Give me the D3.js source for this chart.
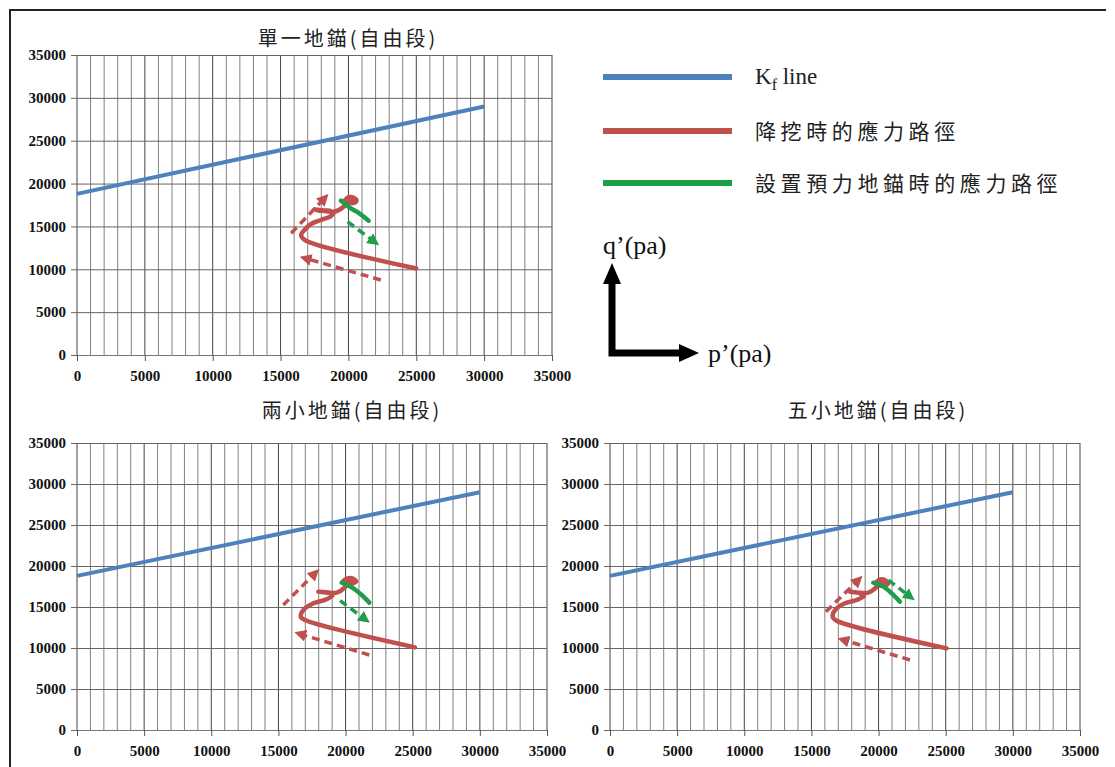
<!DOCTYPE html>
<html lang="zh-Hant">
<head>
  <meta charset="UTF-8">
  <title>Stress path</title>
  <script src="https://cdn.jsdelivr.net/npm/d3@7"></script>
  <style>
    body { margin: 0; background: #fff; }
    svg { display: block; }
    .cjk { font-family: "Noto Sans CJK TC", "Noto Sans CJK SC", sans-serif; fill: #222; }
  </style>
</head>
<body>
  <div id="chart"></div>

  <script>
    // ---- data ----
    const titles = ["單一地錨(自由段)", "兩小地錨(自由段)", "五小地錨(自由段)"];
    const pTicks = [0, 5000, 10000, 15000, 20000, 25000, 30000, 35000];
    const qTicks = [0, 5000, 10000, 15000, 20000, 25000, 30000, 35000];
    const legendLabels = ["K", "降挖時的應力路徑", "設置預力地錨時的應力路徑"];

    // Kf line, p' and q' at both ends
    const kfP = [0, 30000];
    const kfQ = [18800, 29000];

    // red stress path (excavation), [p', q']
    const red1 = [[25000, 10100], [16800, 13400], [16510, 14000], [16760, 14580], [17250, 15280], [17980, 15750],
      [18720, 16220], [18890, 16600], [18600, 16840], [17860, 16840], [17500, 17000], [18960, 16720],
      [19600, 17250], [19900, 17800]];
    const red2 = [[25170, 10080], [16980, 13410], [16660, 13820], [16850, 14630], [17600, 15450], [18590, 15940],
      [19040, 16460], [18790, 16750], [17970, 16870], [19340, 16750], [19950, 17400], [20150, 17900]];
    const red3 = [[25070, 9960], [16880, 13330], [16580, 13820], [16760, 14630], [17500, 15450], [18370, 15850],
      [18910, 16340], [18620, 16670], [17870, 16870], [19240, 16750], [19800, 17350], [20000, 17800]];

    // small red blob at the end of the excavation path
    const blob1 = [[19630, 18000], [20000, 18550], [20440, 18470], [20690, 18000], [20440, 17620], [19950, 17700]];
    const blob2 = [[19710, 18090], [20080, 18620], [20580, 18620], [20880, 18090], [20450, 17680], [19960, 17800]];
    const blob3 = [[19660, 17890], [20110, 18500], [20550, 18370], [20800, 17890], [20480, 17480], [19910, 17560]];

    // green stress path (anchor prestress)
    const green1 = [[19450, 18000], [20190, 17110], [20800, 16530], [21490, 15670]];
    const green2 = [[19710, 17960], [20580, 17280], [21200, 16460], [21770, 15530]];
    const green3 = [[19610, 17960], [20350, 17480], [20980, 16670], [21590, 15650]];

    // dashed direction arrows [start, end]
    const redArrowUp = [[[15780, 14200], [18230, 18280]], [[15360, 15240], [17720, 19110]], [[16080, 14430], [18490, 18290]]];
    const redArrowBack = [[[22390, 8750], [16830, 11280]], [[21770, 9150], [16610, 11710]], [[22340, 8540], [17370, 10980]]];
    const greenArrow = [[[19940, 15550], [21910, 13220]], [[19590, 15770], [21450, 13500]], [[20730, 18290], [22340, 16260]]];

    const reds = [red1, red2, red3];
    const blobs = [blob1, blob2, blob3];
    const greens = [green1, green2, green3];

    // ---- layout ----
    const W = 1115, H = 767;
    const blue = "#4f81bd", redC = "#c0504d", greenC = "#1f9e4a";
    const serif = "'Liberation Serif', 'Times New Roman', serif";

    const svg = d3.select("#chart").append("svg")
      .attr("width", W).attr("height", H);

    const defs = svg.append("defs");
    [["arrRed", redC], ["arrGreen", greenC]].forEach(([id, c]) => {
      defs.append("marker")
        .attr("id", id)
        .attr("viewBox", "0 0 10 10")
        .attr("refX", 5).attr("refY", 5)
        .attr("markerWidth", 3.4).attr("markerHeight", 3.4)
        .attr("orient", "auto")
        .append("path").attr("d", "M0,0 L10,5 L0,10 Z").attr("fill", c);
    });

    // outer frame (left and top)
    svg.append("path")
      .attr("d", `M10,${H} L10,10 L1106,10`)
      .attr("fill", "none").attr("stroke", "#222").attr("stroke-width", 2);

    const panels = [
      {left: 77, right: 552, top: 55, bottom: 355, titleX: 348, titleY: 46},
      {left: 77, right: 547, top: 443, bottom: 730, titleX: 352, titleY: 418},
      {left: 610, right: 1080, top: 443, bottom: 730, titleX: 878, titleY: 418}
    ];

    panels.forEach((pn, i) => {
      const x = d3.scaleLinear().domain([0, 35000]).range([pn.left, pn.right]);
      const y = d3.scaleLinear().domain([0, 35000]).range([pn.bottom, pn.top]);
      const g = svg.append("g");

      // vertical grid every 1000
      g.selectAll(".vg").data(d3.range(0, 35001, 1000)).join("line")
        .attr("x1", d => x(d)).attr("x2", d => x(d))
        .attr("y1", y(35000)).attr("y2", y(0))
        .attr("stroke", d => d % 5000 === 0 ? "#444" : "#808080")
        .attr("stroke-width", 1);

      // y axis: labels + horizontal grid
      const ya = g.append("g").attr("transform", `translate(${pn.left},0)`)
        .call(d3.axisLeft(y).tickValues(qTicks).tickFormat(d3.format("d"))
          .tickSize(6).tickPadding(12));
      ya.select(".domain").remove();
      ya.selectAll(".tick line").attr("stroke", "#666").attr("x2", pn.right - pn.left).attr("x1", -6);
      ya.selectAll(".tick text").attr("x", -11);

      // x axis
      const xa = g.append("g").attr("transform", `translate(0,${pn.bottom})`)
        .call(d3.axisBottom(x).tickValues(pTicks).tickFormat(d3.format("d")).tickSize(6).tickPadding(9));
      xa.select(".domain").attr("stroke", "#777");
      xa.selectAll(".tick line").attr("stroke", "#555");

      g.selectAll(".tick text")
        .style("font-family", serif).style("font-weight", "bold")
        .style("font-size", "15px").attr("fill", "#111");

      // title
      svg.append("text").attr("class", "cjk")
        .attr("x", pn.titleX).attr("y", pn.titleY)
        .attr("text-anchor", "middle")
        .attr("font-size", 20).attr("letter-spacing", 3)
        .text(titles[i]);

      const line = d3.line().x(d => x(d[0])).y(d => y(d[1]));
      const smooth = d3.line().x(d => x(d[0])).y(d => y(d[1])).curve(d3.curveCatmullRom.alpha(0.5));
      const closed = d3.line().x(d => x(d[0])).y(d => y(d[1])).curve(d3.curveCatmullRomClosed.alpha(0.5));

      // Kf line
      g.append("path")
        .attr("d", line(kfP.map((p, k) => [p, kfQ[k]])))
        .attr("fill", "none").attr("stroke", blue).attr("stroke-width", 4);

      // dashed arrows
      g.append("path").attr("d", line(redArrowUp[i]))
        .attr("fill", "none").attr("stroke", redC).attr("stroke-width", 3.5)
        .attr("stroke-dasharray", "8,5").attr("marker-end", "url(#arrRed)");
      g.append("path").attr("d", line(redArrowBack[i]))
        .attr("fill", "none").attr("stroke", redC).attr("stroke-width", 3.5)
        .attr("stroke-dasharray", "8,5").attr("marker-end", "url(#arrRed)");

      // red stress path
      g.append("path").attr("d", smooth(reds[i]))
        .attr("fill", "none").attr("stroke", redC).attr("stroke-width", 4.5)
        .attr("stroke-linejoin", "round").attr("stroke-linecap", "round");
      g.append("path").attr("d", closed(blobs[i]))
        .attr("fill", redC).attr("stroke", redC).attr("stroke-width", 2);

      // green path + arrow
      g.append("path").attr("d", smooth(greens[i]))
        .attr("fill", "none").attr("stroke", greenC).attr("stroke-width", 4.5)
        .attr("stroke-linecap", "round");
      g.append("path").attr("d", line(greenArrow[i]))
        .attr("fill", "none").attr("stroke", greenC).attr("stroke-width", 3.5)
        .attr("stroke-dasharray", "8,5").attr("marker-end", "url(#arrGreen)");
    });

    // ---- legend ----
    const legY = [77, 131, 183];
    const legColors = [blue, redC, greenC];
    legY.forEach((ly, k) => {
      svg.append("line")
        .attr("x1", 603).attr("x2", 732).attr("y1", ly).attr("y2", ly)
        .attr("stroke", legColors[k]).attr("stroke-width", 6);
    });
    const kf = svg.append("text")
      .attr("x", 755).attr("y", legY[0] + 7)
      .attr("font-family", serif).attr("font-size", 23).attr("fill", "#222");
    kf.append("tspan").text(legendLabels[0]);
    kf.append("tspan").attr("dy", 6).attr("font-size", 16).text("f");
    kf.append("tspan").attr("dy", -6).text(" line");
    [1, 2].forEach(k => {
      svg.append("text").attr("class", "cjk")
        .attr("x", 755).attr("y", legY[k] + 8)
        .attr("font-size", 21).attr("letter-spacing", 4.6)
        .text(legendLabels[k]);
    });

    // ---- axis direction sketch ----
    const ax = svg.append("g");
    ax.append("path")
      .attr("d", "M612,283 L612,353 L682,353")
      .attr("fill", "none").attr("stroke", "#000").attr("stroke-width", 7);
    ax.append("path").attr("d", "M603,284 L621,284 L612,263 Z").attr("fill", "#000");
    ax.append("path").attr("d", "M679,344 L679,362 L699,353 Z").attr("fill", "#000");
    ax.append("text").attr("x", 603).attr("y", 254)
      .attr("font-family", serif).attr("font-size", 26).attr("fill", "#111")
      .text("q\u2019(pa)");
    ax.append("text").attr("x", 708).attr("y", 362)
      .attr("font-family", serif).attr("font-size", 26).attr("fill", "#111")
      .text("p\u2019(pa)");
  </script>
</body>
</html>
